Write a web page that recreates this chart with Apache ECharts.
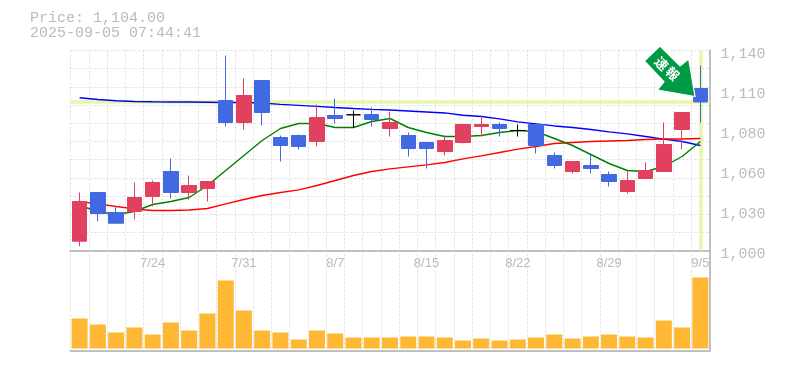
<!DOCTYPE html>
<html><head><meta charset="utf-8">
<style>html,body{margin:0;padding:0;background:#fff}#c{width:785px;height:370px}</style>
<script src="https://cdn.jsdelivr.net/npm/echarts@6/dist/echarts.min.js"></script>
</head><body><div id="c"></div>
<script>
const dates = ['7/17','7/18','7/22','7/23','7/24','7/25','7/28','7/29','7/30','7/31','8/1','8/4','8/5','8/6','8/7','8/8','8/12','8/13','8/14','8/15','8/18','8/19','8/20','8/21','8/22','8/25','8/26','8/27','8/28','8/29','9/1','9/2','9/3','9/4','9/5'];
const shownDates = ['7/24','7/31','8/7','8/15','8/22','8/29','9/5'];
const priceTickValues = [1000,1028,1056,1084,1112,1140];
const priceTickLabels = ['1,000','1,030','1,060','1,080','1,110','1,140'];
// open, close, low, high
const candles = [
[1006.5,1034.3,1003,1040.6],[1040.6,1025.9,1020.5,1040.6],[1026.6,1019.1,1019.1,1031.3],[1027.3,1037.1,1021.7,1047.6],
[1037.8,1047.6,1030.8,1049],[1055.3,1040.6,1036.4,1064.4],[1040.6,1045.5,1035.7,1052.5],[1043.4,1048.3,1034.3,1048.3],
[1105,1089.6,1086.8,1136.5],[1089.6,1108.5,1084.7,1120.4],[1119,1096.6,1087.5,1119],[1079.1,1073.5,1062.3,1080.5],
[1080.5,1072.8,1070.7,1081.2],[1076.3,1093.1,1072.8,1102.2],[1094.5,1092.4,1088.9,1106.4],[1095,1095,1085.9,1098],
[1095.2,1091.7,1086.8,1100.1],[1085.4,1089.6,1079.8,1097.3],[1080.5,1071.4,1065.8,1082.6],[1075.6,1071.4,1057.4,1075.6],
[1069.3,1077,1066.5,1080.5],[1075.6,1088.2,1074.9,1088.2],[1086.8,1088.2,1079.8,1094.5],[1088.2,1085.4,1079.8,1089.6],
[1084,1084,1079.8,1088.2],[1088.2,1073.5,1067.9,1088.2],[1066.5,1059.5,1057.4,1068.6],[1055.3,1062.3,1053.9,1062.3],
[1059.5,1057.4,1053.9,1067.2],[1053.2,1048.3,1044.8,1055.3],[1041.3,1049,1039.9,1056],[1050.4,1056,1050.4,1061.6],
[1055.3,1074.2,1055.3,1089.6],[1084.7,1096.6,1070.7,1096.6],[1113.4,1104,1089.6,1129.5]];
const maBlue = [1106.9,1105.7,1104.8,1104.3,1104.1,1104,1104,1103.8,1103.6,1103.6,1103.3,1102.3,1101.6,1100.9,1100.1,1099.4,1098.8,1098.4,1097.7,1097,1096.3,1094.7,1093.8,1092.1,1090,1088.6,1087.2,1086.1,1084.7,1083,1081.6,1079.8,1078,1076.3,1073.5];
const maGreen = [1031.5,1027.3,1025.2,1027.3,1032.2,1034.3,1037.1,1045.5,1056,1066.5,1077,1085.4,1088.9,1088.9,1086.1,1086.1,1090.3,1092.4,1086.1,1082.6,1079.8,1079.8,1080.5,1082.6,1084,1083.3,1078.4,1073.5,1067.2,1060.9,1056,1055.3,1058.8,1065.8,1076.3];
const maRed = [1034.3,1032.6,1030.8,1029.1,1028,1028,1028.4,1029.4,1032.6,1035.7,1038.5,1040.6,1042.4,1045.5,1049,1052.5,1055.3,1057.1,1058.5,1059.9,1061.6,1064.1,1066.2,1068.6,1071,1072.8,1074.9,1075.6,1076.3,1076.7,1077,1077.7,1078,1078,1078.4];
const volumes = [3000,2400,1600,2100,1400,2600,1800,3500,6800,3800,1800,1600,900,1800,1500,1100,1100,1100,1200,1200,1100,800,1000,800,900,1100,1400,1000,1200,1400,1200,1100,2800,2100,7100];
const lastPrice = 1104, lastDate = '9/5';
const titleLines = ['Price: 1,104.00','2025-09-05 07:44:41'];
const badgeText = ['速','報'];

const gray='#bbbbbb', mono='"Liberation Mono", monospace';
const RED='#e2405f', BLUE='#4169e1';
const dashed={show:true,interval:0,lineStyle:{color:'#dddddd',type:[2,2],width:1}};
const solid={show:true,onZero:false,lineStyle:{color:'#c0c0c0',width:2}};
const chart=echarts.init(document.getElementById('c'),null,{renderer:'canvas'});
chart.setOption({
  animation:false,
  backgroundColor:'#fff',
  title:titleLines.map((t,i)=>({text:t,left:30,top:11+i*15,padding:0,textStyle:{color:gray,fontFamily:mono,fontSize:15,fontWeight:'normal',lineHeight:15}})),
  grid:[{left:70.5,top:50.5,width:639,height:200},{left:70.5,top:250.5,width:639,height:100}],
  xAxis:[
    {type:'category',gridIndex:0,data:dates,axisLine:solid,axisTick:{show:false},axisLabel:{show:false},splitLine:dashed},
    {type:'category',gridIndex:1,data:dates,position:'top',axisLine:solid,axisTick:{show:false},splitLine:dashed,
     axisLabel:{inside:true,margin:6,interval:0,color:gray,fontFamily:'"Liberation Sans Narrow", sans-serif',fontSize:13,hideOverlap:false,
       formatter:v=>shownDates.includes(v)?v:''}},
    {type:'category',gridIndex:1,data:dates,position:'bottom',axisLine:solid,axisTick:{show:false},axisLabel:{show:false},splitLine:{show:false}}
  ],
  yAxis:[
    {type:'value',gridIndex:0,position:'right',min:1000,max:1140,scale:true,axisLine:solid,axisTick:{show:false},splitLine:{show:false},
     axisLabel:{customValues:priceTickValues,margin:11,color:gray,fontFamily:mono,fontSize:15,verticalAlign:'top',lineHeight:8,
       formatter:v=>priceTickLabels[priceTickValues.indexOf(v)]}},
    {type:'value',gridIndex:0,min:0,max:11,interval:1,axisLine:{show:false},axisTick:{show:false},axisLabel:{show:false},
     splitLine:{show:true,lineStyle:{color:'#dddddd',type:[2,2],width:1}}},
    {type:'value',gridIndex:1,position:'right',min:-200,max:9800,axisLine:solid,axisTick:{show:false},axisLabel:{show:false},splitLine:{show:false}}
  ],
  series:[
    {type:'line',xAxisIndex:0,yAxisIndex:0,data:[],z:1,silent:true,
     markLine:{silent:true,z:1,symbol:'none',label:{show:false},animation:false,
       lineStyle:{color:'#e6f7aa',width:3.5,type:'solid'},
       data:[{yAxis:lastPrice},{xAxis:lastDate}]}},
    {type:'line',name:'long',xAxisIndex:0,yAxisIndex:0,data:maBlue,z:3,symbol:'none',lineStyle:{color:'#0000ff',width:1.4}},
    {type:'line',name:'mid',xAxisIndex:0,yAxisIndex:0,data:maRed,z:3,symbol:'none',lineStyle:{color:'#ff0000',width:1.4}},
    {type:'line',name:'short',xAxisIndex:0,yAxisIndex:0,data:maGreen,z:3,symbol:'none',lineStyle:{color:'#008000',width:1.4}},
    {type:'candlestick',xAxisIndex:0,yAxisIndex:0,z:5,barWidth:15,
     itemStyle:{color:RED,color0:BLUE,borderColor:RED,borderColor0:BLUE,borderColorDoji:'#000000',borderWidth:1},
     data:candles},
    {type:'bar',xAxisIndex:1,yAxisIndex:2,data:volumes,barWidth:16,itemStyle:{color:'#ffb833'},z:3}
  ],
  graphic:[
    {type:'polygon',z:100,shape:{points:[[695,96.5],[657.5,90],[664,81.7],[644.3,61],[660,46],[680,66],[688.7,59]]},
     style:{fill:'#009944',stroke:'#ffffff',lineWidth:1.2}},
    {type:'text',z:101,x:661.5,y:63.5,rotation:-Math.PI/4,style:{text:badgeText[0],fill:'#fff',font:'bold 13px "Noto Sans CJK JP"',align:'center',verticalAlign:'middle'}},
    {type:'text',z:101,x:672.7,y:73.5,rotation:-Math.PI/4,style:{text:badgeText[1],fill:'#fff',font:'bold 13px "Noto Sans CJK JP"',align:'center',verticalAlign:'middle'}}
  ]
});
</script></body></html>
